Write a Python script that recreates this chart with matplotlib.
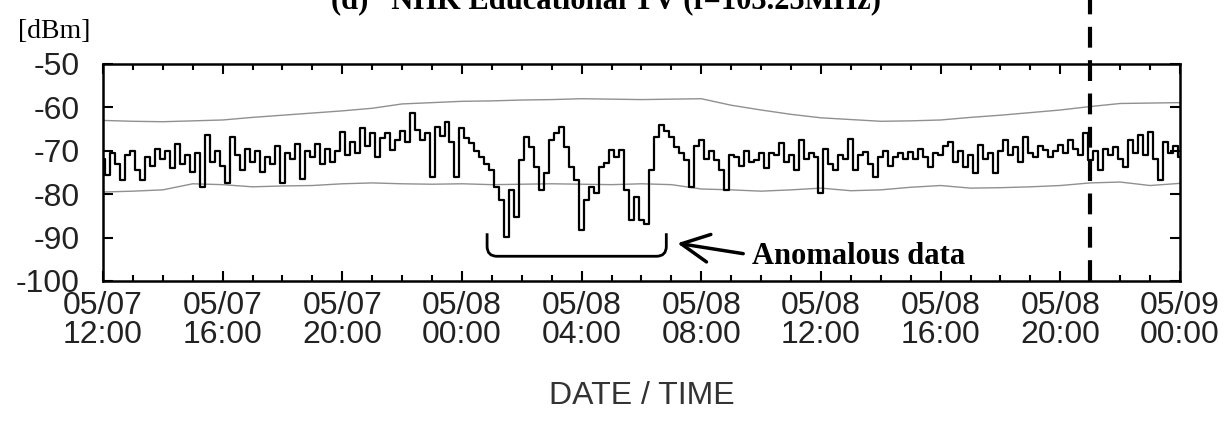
"""
Received power time series, NHK Educational TV (f=103.25MHz), 05/07 12:00 - 05/09 00:00.
Black: measured level, grey: upper/lower envelope, dashed: marker at 05/08 21:00.
"""
import matplotlib

matplotlib.use("Agg")  # noqa: E402
import matplotlib.pyplot as plt
import numpy as np
from matplotlib.patches import PathPatch
from matplotlib.path import Path

# x axis: hours since 05/07 12:00
tick_hours = [0, 4, 8, 12, 16, 20, 24, 28, 32, 36]
tick_labels = ["05/07\n12:00", "05/07\n16:00", "05/07\n20:00", "05/08\n00:00",
               "05/08\n04:00", "05/08\n08:00", "05/08\n12:00", "05/08\n16:00",
               "05/08\n20:00", "05/09\n00:00"]
event_hour = 33  # 05/08 21:00

power_10min = [
    -72.0, -75.5, -70.5, -73.0, -76.8, -71.0,
    -70.0, -74.5, -76.8, -71.5, -73.5, -69.5,
    -72.0, -70.0, -74.0, -68.5, -73.0, -71.0,
    -75.0, -70.5, -78.3, -66.4, -72.5, -70.0,
    -73.5, -77.5, -66.8, -71.0, -74.5, -69.5,
    -72.5, -70.0, -75.0, -71.5, -73.0, -69.0,
    -77.5, -70.5, -72.0, -68.5, -76.4, -70.0,
    -71.5, -68.5, -73.0, -69.5, -72.5, -70.0,
    -65.6, -71.0, -68.0, -70.5, -64.8, -69.0,
    -66.0, -71.4, -67.0, -66.0, -69.8, -67.5,
    -65.5, -68.0, -61.4, -65.2, -67.5, -66.0,
    -76.0, -64.5, -66.5, -63.3, -68.0, -76.0,
    -64.8, -67.0, -68.3, -70.0, -71.4, -73.0,
    -74.5, -78.3, -81.4, -89.8, -79.1, -85.2,
    -72.2, -66.8, -69.1, -73.7, -79.1, -75.2,
    -67.5, -66.0, -64.5, -69.1, -73.7, -76.8,
    -88.3, -81.4, -78.3, -79.8, -73.7, -72.9,
    -69.8, -71.4, -69.8, -79.1, -86.0, -80.6,
    -86.0, -86.8, -74.5, -66.8, -64.1, -65.5,
    -66.8, -69.1, -70.5, -72.2, -78.3, -69.0,
    -67.5, -72.0, -70.0, -72.2, -74.5, -79.1,
    -71.0, -71.4, -73.5, -70.0, -72.5, -72.2,
    -70.5, -74.0, -70.6, -71.0, -68.3, -72.5,
    -71.0, -74.5, -67.5, -72.0, -70.5, -71.5,
    -79.8, -69.5, -73.0, -74.5, -71.0, -72.0,
    -67.2, -74.5, -71.0, -70.2, -73.0, -76.0,
    -71.5, -70.0, -73.5, -71.4, -70.5, -72.0,
    -70.2, -72.0, -69.5, -71.5, -73.7, -70.5,
    -71.0, -69.0, -67.9, -72.5, -70.0, -73.7,
    -71.0, -75.2, -68.7, -72.0, -70.5, -75.2,
    -70.0, -67.5, -71.0, -69.1, -72.5, -66.8,
    -70.5, -71.4, -69.0, -69.8, -71.5, -70.0,
    -68.7, -70.5, -67.5, -69.5, -71.0, -66.0,
    -72.2, -70.0, -74.5, -69.5, -71.0, -69.1,
    -72.0, -73.7, -67.5, -70.5, -66.4, -71.0,
    -65.6, -72.0, -76.8, -67.9, -70.5, -69.0,
    -71.4,
]

# envelope [dBm], hourly
upper_hourly = [
    -63.0, -63.2, -63.3, -63.1, -62.9, -62.3, -61.8, -61.3, -60.8, -60.2,
    -59.2, -58.9, -58.6, -58.5, -58.3, -58.2, -58.0, -58.1, -58.2, -58.1,
    -58.0, -59.5, -60.6, -61.6, -62.4, -62.8, -63.2, -63.1, -62.9, -62.3,
    -61.8, -61.2, -60.6, -59.8, -59.1, -59.0, -58.9,
]
lower_hourly = [
    -79.5, -79.3, -79.0, -77.6, -77.8, -78.3, -78.1, -78.0, -77.6, -77.4,
    -77.6, -77.7, -77.6, -77.8, -77.7, -77.6, -77.7, -77.8, -77.6, -77.8,
    -78.8, -79.0, -79.3, -79.0, -78.6, -79.2, -79.0, -78.4, -78.0, -78.6,
    -78.5, -78.3, -78.0, -77.4, -77.2, -78.0, -77.5,
]

t_power = np.arange(len(power_10min)) / 6.0
t_env = np.arange(len(upper_hourly), dtype=float)

SANS = ["Liberation Sans", "DejaVu Sans"]
SERIF = ["Liberation Serif", "DejaVu Serif"]

fig = plt.figure(figsize=(12.27, 4.23), dpi=100)
ax = fig.add_axes([0.0839, 0.3357, 0.8778, 0.5130])

ax.plot(t_env, upper_hourly, color="#909090", lw=1.0)
ax.plot(t_env, lower_hourly, color="#909090", lw=1.0)
ax.plot(t_power, power_10min, color="black", lw=1.6, drawstyle="steps-mid")

# marker line runs above the axes up to the figure edge
ax.plot([event_hour, event_hour], [-100, -30], color="black", lw=3.0,
        dashes=(5, 3), clip_on=False)

ax.set_xlim(0, 36)
ax.set_ylim(-100, -50)
ax.set_xticks(tick_hours)
ax.set_xticklabels(tick_labels, fontfamily=SANS, fontsize=23, color="#222222",
                   linespacing=0.97)
ax.set_xticks(np.arange(0, 37), minor=True)
ax.set_yticks(np.arange(-100, -49, 10))
ax.set_yticklabels([str(v) for v in range(-100, -49, 10)], fontfamily=SANS,
                   fontsize=23, color="#222222")
ax.tick_params(axis="both", which="major", direction="in", length=7, width=1.5,
               top=True, right=True)
ax.tick_params(axis="x", which="minor", direction="in", length=4, width=1.5,
               top=True, bottom=True)
ax.tick_params(axis="x", which="major", pad=7)
ax.tick_params(axis="y", which="major", pad=17)
for s in ax.spines.values():
    s.set_linewidth(1.8)

ax.set_xlabel("DATE / TIME", fontfamily=SANS, fontsize=23, color="#333333",
              labelpad=22)

# bracket under the anomalous period
x0, x1, y_top, y_bot, rx, ry = 12.84, 18.83, -89.0, -94.3, 0.33, 2.3
verts = [(x0, y_top), (x0, y_bot + ry), (x0, y_bot), (x0 + rx, y_bot),
         (x1 - rx, y_bot), (x1, y_bot), (x1, y_bot + ry), (x1, y_top)]
codes = [Path.MOVETO, Path.LINETO, Path.CURVE3, Path.CURVE3,
         Path.LINETO, Path.CURVE3, Path.CURVE3, Path.LINETO]
ax.add_patch(PathPatch(Path(verts, codes), fill=False, lw=2.0, color="black"))

ax.annotate("", xy=(19.2, -91.3), xytext=(21.4, -93.7),
            arrowprops=dict(arrowstyle="->, head_length=1.0, head_width=0.5",
                            mutation_scale=20, lw=2.5, color="black",
                            shrinkA=0, shrinkB=0))
ax.text(21.7, -96.0, "Anomalous data", fontfamily=SERIF, fontsize=22,
        fontweight="bold", va="baseline", ha="left")

fig.text(18 / 1227, 1 - 32 / 423, "[dBm]", fontfamily=SERIF, fontsize=20,
         va="center", ha="left")
# title is cut off at the top edge in the original
fig.text(331 / 1227, 1 - 8 / 423, "(d)   NHK Educational TV (f=103.25MHz)",
         fontfamily=SERIF, fontsize=22, fontweight="bold", va="baseline",
         ha="left")

fig.savefig("out.png", dpi=100)
plt.close(fig)
